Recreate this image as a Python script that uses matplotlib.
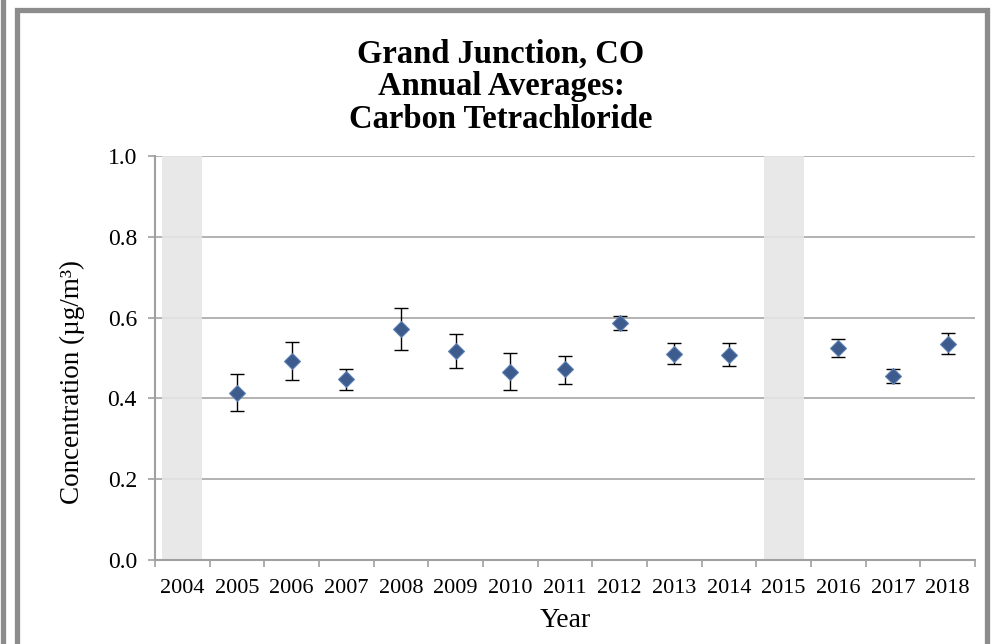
import matplotlib.pyplot as plt
import numpy as np
from matplotlib.patches import Rectangle
from matplotlib.lines import Line2D

# annual averages, carbon tetrachloride (ug/m3); None = no data that year
years = [2004, 2005, 2006, 2007, 2008, 2009, 2010, 2011, 2012, 2013, 2014, 2015, 2016, 2017, 2018]
means = [None, 0.414, 0.493, 0.449, 0.572, 0.518, 0.466, 0.472, 0.586, 0.511, 0.508, None, 0.525, 0.455, 0.535]
upper = [None, 0.461, 0.540, 0.474, 0.623, 0.560, 0.512, 0.506, 0.605, 0.538, 0.536, None, 0.548, 0.474, 0.563]
lower = [None, 0.368, 0.446, 0.422, 0.520, 0.475, 0.421, 0.436, 0.569, 0.484, 0.481, None, 0.502, 0.438, 0.511]
yticks = [0.0, 0.2, 0.4, 0.6, 0.8, 1.0]

plt.rcParams['font.family'] = ['Liberation Serif', 'DejaVu Serif']

fig = plt.figure(figsize=(9.96, 6.44), dpi=100)
ax = fig.add_axes([155/996, 1 - 560/644, 820/996, 404/644])

x = np.arange(len(years))
have = [i for i, m in enumerate(means) if m is not None]
missing = [i for i, m in enumerate(means) if m is None]

# shaded columns for years without data
ax.bar(missing, [yticks[-1]] * len(missing), width=0.73, color='#e6e6e6', alpha=0.9, zorder=2)

m = np.array([means[i] for i in have])
lo = m - np.array([lower[i] for i in have])
hi = np.array([upper[i] for i in have]) - m
ax.errorbar(have, m, yerr=[lo, hi], fmt='none', ecolor='black', elinewidth=1, capsize=4.7, capthick=1, zorder=3)
ax.plot(have, m, 'D', ms=8.5, color='#3d5b8c', mec='#5b7fb5', mew=0.8, zorder=4)

ax.set_xlim(-0.5, len(years) - 0.5)
ax.set_ylim(0, 1.0)
ax.set_yticks(yticks)
ax.set_yticklabels(['%.1f' % v for v in yticks], fontsize=17)
ax.set_xticks(x)
ax.set_xticklabels([str(y) for y in years], fontsize=16)
ax.set_xticks(np.arange(-0.5, len(years)), minor=True)
ax.tick_params(axis='x', which='major', length=0, pad=14)
ax.tick_params(axis='x', which='minor', length=5, color='#a0a0a0', width=1.2)
ax.tick_params(axis='y', length=5, color='#a0a0a0', width=1.2, pad=8)

ax.grid(axis='y', color='#a6a6a6', linewidth=1.2, zorder=1)
ax.set_axisbelow(True)
for s in ['top', 'right']:
    ax.spines[s].set_visible(False)
for s in ['left', 'bottom']:
    ax.spines[s].set_color('#a0a0a0')
    ax.spines[s].set_linewidth(1.5)

ax.set_ylabel('Concentration (µg/m³)', fontsize=19.5)
ax.yaxis.set_label_coords(-0.085, 0.44)
ax.set_xlabel('Year', fontsize=20, labelpad=7)

fig.text(0.503, 1 - 87/644, 'Grand Junction, CO\nAnnual Averages:\nCarbon Tetrachloride',
         ha='center', va='center', fontsize=23.5, fontweight='bold', linespacing=1.08)

# chart frame
fig.patches.append(Rectangle((16.5/996, -20/644), 970/996, (644 - 9.5 + 20)/644,
                             transform=fig.transFigure, fill=False, edgecolor='#8c8c8c', linewidth=3.8))
fig.lines.append(Line2D([2.5/996, 2.5/996], [0, 1], transform=fig.transFigure, color='#8c8c8c', linewidth=3.8))

fig.savefig('out.png', dpi=100)
